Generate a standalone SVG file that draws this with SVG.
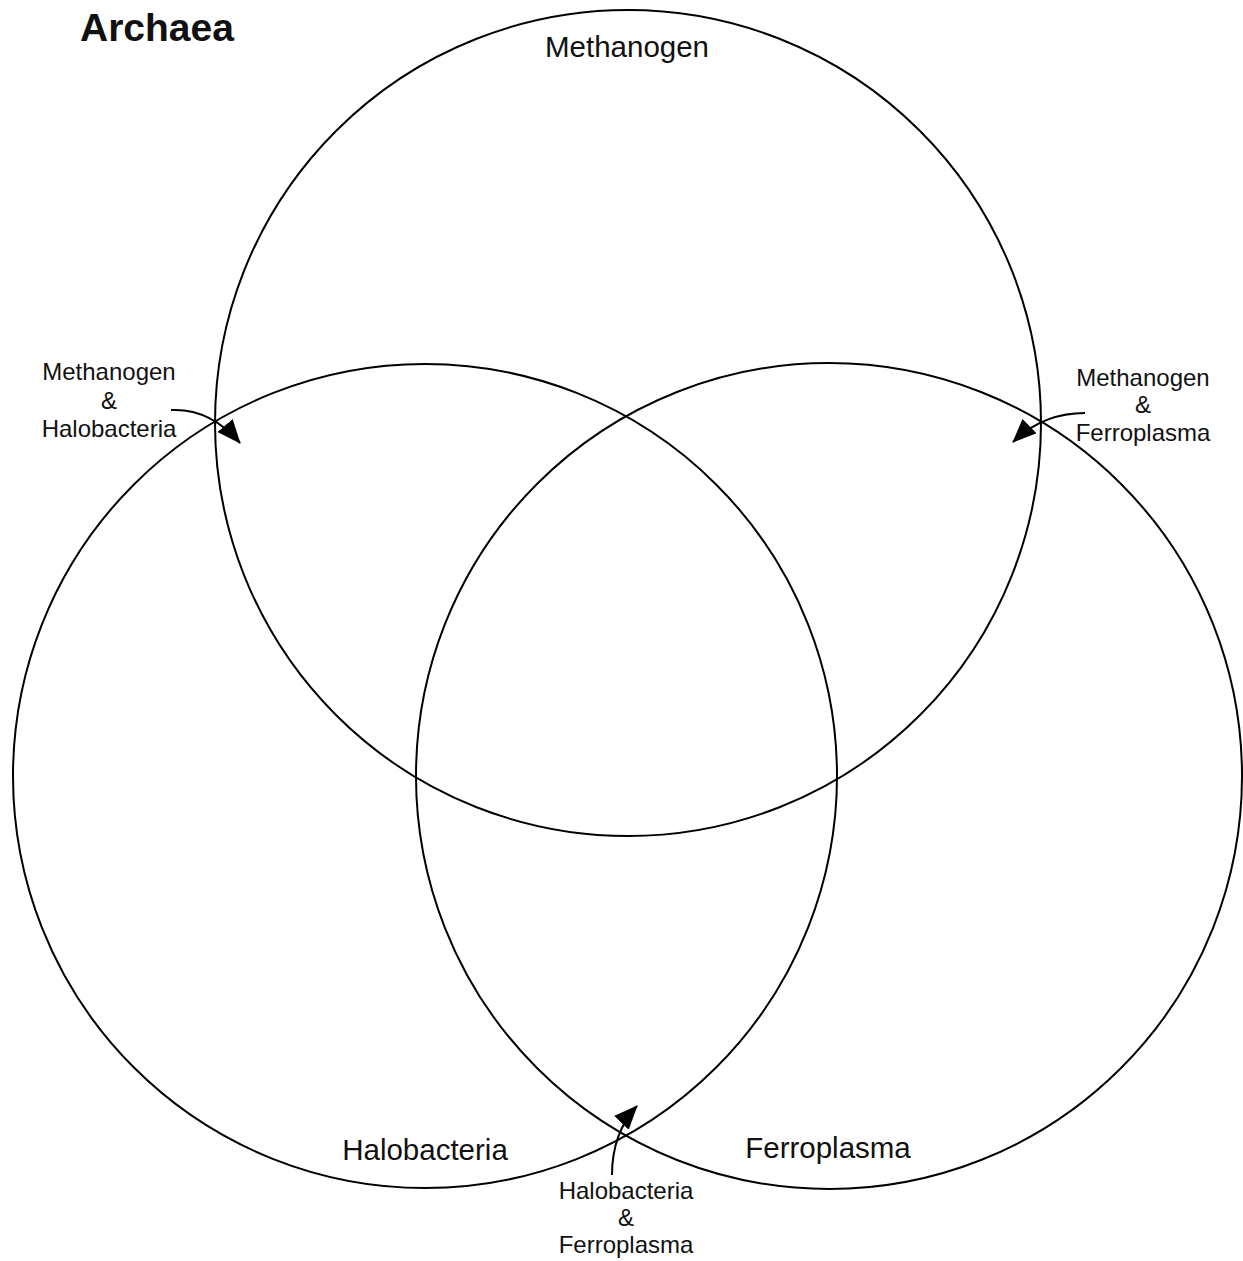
<svg xmlns="http://www.w3.org/2000/svg" width="1243" height="1261" viewBox="0 0 1243 1261">
<style>
.c{fill:none;stroke:#000;stroke-width:2}
.a{fill:none;stroke:#000;stroke-width:2}
text{font-family:"Liberation Sans",Arial,sans-serif;fill:#111}
.big{font-size:29.5px;text-anchor:middle}
.sm{font-size:24px;text-anchor:middle}
</style>
<defs>
<marker id="ah2" viewBox="0 0 24 20" refX="23" refY="10" markerWidth="24" markerHeight="20" markerUnits="userSpaceOnUse" orient="auto">
<path d="M0,0 L24,10 L0,20 z" fill="#000"/>
</marker>
</defs>
<rect width="1243" height="1261" fill="#fff"/>
<text x="80" y="41" style="font-size:39px;font-weight:bold">Archaea</text>
<g id="methanogen">
<circle class="c" cx="628" cy="423" r="413"/>
<text class="big" x="627" y="57">Methanogen</text>
</g>
<g id="halobacteria">
<circle class="c" cx="425" cy="776" r="412"/>
<text class="big" x="425" y="1160">Halobacteria</text>
</g>
<g id="ferroplasma">
<circle class="c" cx="829" cy="776" r="413"/>
<text class="big" x="828" y="1158">Ferroplasma</text>
</g>
<g id="label-mh">
<text class="sm" x="109" y="380">Methanogen</text>
<text class="sm" x="109" y="409">&amp;</text>
<text class="sm" x="109" y="437">Halobacteria</text>
</g>
<g id="label-mf">
<text class="sm" x="1143" y="386">Methanogen</text>
<text class="sm" x="1143" y="413">&amp;</text>
<text class="sm" x="1143" y="441">Ferroplasma</text>
</g>
<g id="label-hf">
<text class="sm" x="626" y="1199">Halobacteria</text>
<text class="sm" x="626" y="1226">&amp;</text>
<text class="sm" x="626" y="1253">Ferroplasma</text>
</g>
<g id="connectors">
<path class="a" d="M171,410 Q210,408 240,443" marker-end="url(#ah2)"/>
<path class="a" d="M1085,413 Q1043,413 1013,442" marker-end="url(#ah2)"/>
<path class="a" d="M612,1175 Q612,1133 637,1106" marker-end="url(#ah2)"/>
</g>
</svg>
